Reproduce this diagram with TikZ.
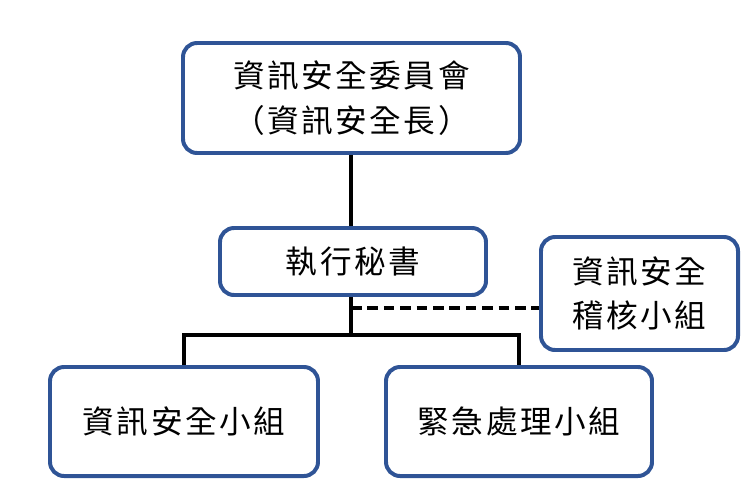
\documentclass[tikz,border=0pt]{standalone}
\usepackage{fontspec}
\newfontfamily\cjk[LetterSpace=8]{Noto Sans CJK TC}
\definecolor{bd}{RGB}{47,84,150}
\begin{document}
\begin{tikzpicture}[x=0.03cm,y=-0.03cm,
  box/.style={draw=bd,line width=3.4pt,rounded corners=12pt,fill=white,font=\cjk\fontsize{27}{38}\selectfont,align=center,inner sep=0pt},
  ln/.style={line width=3.4pt}]
\useasboundingbox (0,0) rectangle (754,496);
\coordinate (j) at (351,335);
\coordinate (d) at (351,308);
\node[box,minimum width=337*0.03cm,minimum height=110*0.03cm] (top) at (351.5,98) {資訊安全委員會\\（資訊安全長）};
\node[box,minimum width=266*0.03cm,minimum height=67*0.03cm] (mid) at (353,261.5) {執行秘書};
\node[box,minimum width=197*0.03cm,minimum height=113*0.03cm] (aud) at (639.5,293.5) {資訊安全\\稽核小組};
\node[box,minimum width=268*0.03cm,minimum height=109*0.03cm] (bl) at (184,421.5) {資訊安全小組};
\node[box,minimum width=266*0.03cm,minimum height=109*0.03cm] (br) at (519,421.5) {緊急處理小組};
\draw[ln] (top.south -| j) -- (mid.north -| j);
\draw[ln] (mid.south -| j) -- (j);
\draw[ln] (bl.north) |- (j) -| (br.north);
\draw[line width=2.8pt,dash pattern=on 9pt off 5pt] (d) -- (d -| aud.west);
\end{tikzpicture}
\end{document}
